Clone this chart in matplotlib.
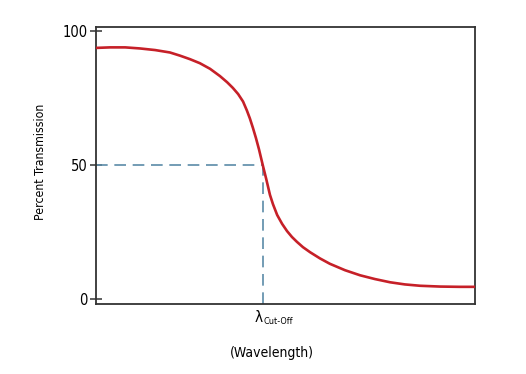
import matplotlib
matplotlib.use("Agg")
import matplotlib.pyplot as plt
from matplotlib import font_manager
from matplotlib.font_manager import FontProperties

# Data (wavelength in arbitrary units 0..100)
wavelength = [0, 3.7, 7.7, 11.6, 15.6, 19.5, 22.2, 24.8, 27.4, 30.1,
              32.7, 34.6, 36.1, 37.5, 38.8, 39.8, 40.6, 41.4, 42.2, 43.0,
              44.0, 44.9, 45.9, 46.7, 47.8, 49.1, 50.4, 51.7, 53.0, 54.6,
              56.5, 59.1, 61.7, 65.7, 69.7, 73.6, 77.6, 81.5, 85.5, 90.8,
              96.0, 100]
transmission = [93.7, 93.9, 93.9, 93.5, 92.9, 92.0, 90.8, 89.5, 88.0, 85.9,
                83.2, 80.9, 78.8, 76.5, 73.7, 70.4, 67.4, 63.9, 60.1, 55.9,
                50.0, 44.9, 38.9, 35.4, 31.4, 28.1, 25.4, 23.2, 21.4, 19.4,
                17.5, 15.2, 13.2, 10.8, 8.9, 7.5, 6.3, 5.5, 5.0, 4.7,
                4.6, 4.6]
cutoff_x = 44.0
cutoff_y = 50
y_ticks = [0, 50, 100]
y_tick_labels = ["0", "50", "100"]

# find a condensed / narrow font if one is installed
cond = None
for f in font_manager.fontManager.ttflist:
    st = str(f.stretch).lower()
    nm = (f.name + ' ' + f.fname).lower()
    if (('narrow' in nm or 'condensed' in nm or 'condensed' in st)
            and 'bold' not in nm and 'italic' not in nm and 'oblique' not in nm
            and f.weight in (400, 'normal', 'regular', 500, 'medium')):
        cond = f.fname
        break

if cond:
    def fp(size):
        return FontProperties(fname=cond, size=size)
    s_tick, s_lab, s_x, s_lam = 10.5, 8.8, 10, 11
else:
    def fp(size):
        return FontProperties(family='DejaVu Sans', size=size)
    s_tick, s_lab, s_x, s_lam = 9, 7.5, 8.5, 9.5

fig = plt.figure(figsize=(5.26, 3.74), dpi=100)
ax = fig.add_axes([96/526, 1-304/374, (475-96)/526, (304-27)/374])

ax.plot(wavelength, transmission, color='#c62028', lw=1.9,
        solid_joinstyle='round', solid_capstyle='butt', zorder=3)

dash_col = '#5b8ba8'
ax.plot([0, cutoff_x], [cutoff_y, cutoff_y], color=dash_col, lw=1.2, dashes=(7, 4), zorder=2)
ax.plot([cutoff_x, cutoff_x], [-1.8, cutoff_y], color=dash_col, lw=1.2, dashes=(7, 4), zorder=2)

ax.set_xlim(0, 100)
ax.set_ylim(-1.8, 101.5)

for s in ax.spines.values():
    s.set_color('#333333')
    s.set_linewidth(1.3)

ax.set_yticks(y_ticks)
ax.set_yticklabels(y_tick_labels)
for t in ax.get_yticklabels():
    t.set_fontproperties(fp(s_tick))
ax.tick_params(axis='y', direction='inout', length=9, width=1.1, color='#333333', pad=1.5)
ax.set_xticks([])

fig.text(262.5/526, 1-318/374, '\u03bb', fontproperties=fp(s_lam), ha='right', va='center')
fig.text(263/526, 1-322/374, 'Cut-Off', fontproperties=fp(s_lam-4.5), ha='left', va='center')
fig.text(40/526, 1-161.5/374, 'Percent Transmission', fontproperties=fp(s_lab),
         rotation=90, ha='center', va='center')
fig.text(272/526, 1-353/374, '(Wavelength)', fontproperties=fp(s_x), ha='center', va='center')

fig.savefig('out.png', dpi=100)
